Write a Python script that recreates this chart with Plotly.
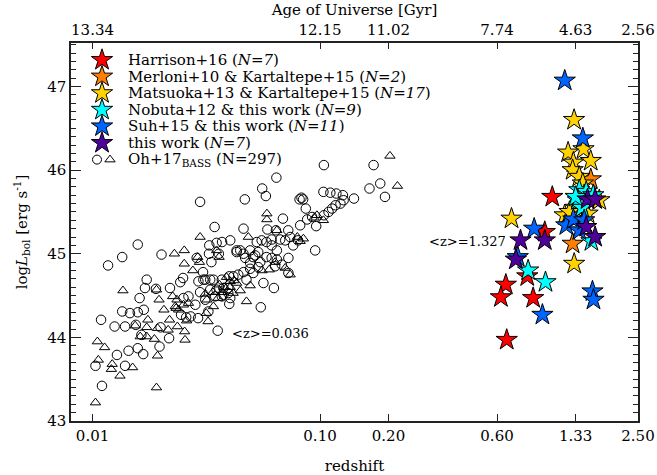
import numpy as np
import plotly.graph_objects as go

# ---------------- data ----------------
# Oh+17 BASS (circles)
bass_circ_z = [0.0103, 0.0110, 0.0128, 0.0139, 0.0144, 0.0158, 0.0167, 0.0197, 0.0217, 0.0164,
               0.0109, 0.0125, 0.0139, 0.0155, 0.0135, 0.0146, 0.0158, 0.0168, 0.0161, 0.0173,
               0.0170, 0.0190, 0.0219, 0.0243, 0.0250, 0.0158, 0.0135, 0.0117, 0.0201, 0.0251,
               0.0264, 0.0245, 0.0258, 0.0270, 0.0291, 0.0323, 0.0355, 0.0292, 0.0313, 0.0340,
               0.0370, 0.0399, 0.0437, 0.0351, 0.0376, 0.0395, 0.0403, 0.0370, 0.0399, 0.0306,
               0.0326, 0.0351, 0.0371, 0.0403, 0.0333, 0.0287, 0.0325, 0.0359, 0.0430, 0.0199,
               0.104, 0.172, 0.184, 0.165, 0.0643, 0.0557, 0.0578, 0.0467, 0.0813, 0.0829,
               0.0843, 0.1035, 0.111, 0.118, 0.126, 0.141, 0.127, 0.123, 0.117, 0.113,
               0.109, 0.104, 0.0866, 0.0878, 0.0923, 0.0962, 0.0952, 0.0687, 0.0587, 0.0640,
               0.0725, 0.0461, 0.0344, 0.0527, 0.0554, 0.0582, 0.0613, 0.0668, 0.0430, 0.0446,
               0.0493, 0.0469, 0.0493, 0.0519, 0.0546, 0.0535, 0.0582, 0.0613, 0.0646, 0.0679,
               0.0726, 0.0635, 0.0726, 0.0564, 0.0627, 0.0549, 0.193, 0.0307, 0.0329, 0.0313,
               0.0346, 0.0376, 0.0416, 0.0461, 0.0493, 0.0509, 0.0475, 0.0395, 0.0329, 0.0283,
               0.0297, 0.0818, 0.0762, 0.0800, 0.0297, 0.0461, 0.0508, 0.0535, 0.0646, 0.0613,
               0.0703, 0.0739]
bass_circ_L = [43.66, 43.42, 43.79, 43.66, 43.84, 43.87, 43.80, 43.89, 43.99, 44.03,
               44.21, 44.13, 44.13, 44.15, 44.31, 44.29, 44.30, 44.33, 44.47, 44.69,
               44.59, 44.58, 44.59, 44.66, 44.71, 45.11, 44.96, 44.86, 44.99, 44.47,
               44.49, 44.27, 44.24, 44.25, 44.23, 44.31, 44.08, 44.67, 44.69, 44.69,
               44.69, 44.73, 44.75, 44.57, 44.59, 44.53, 44.47, 44.49, 44.40, 44.78,
               45.10, 45.13, 45.14, 45.16, 44.90, 44.95, 45.00, 45.00, 45.02, 44.12,
               46.06, 46.06, 45.84, 45.78, 45.91, 45.78, 45.69, 45.65, 45.65, 45.67,
               45.65, 45.74, 45.73, 45.72, 45.70, 45.66, 45.64, 45.60, 45.58, 45.54,
               45.50, 45.46, 45.54, 45.41, 45.44, 45.33, 45.04, 45.42, 45.29, 45.28,
               45.28, 45.30, 45.32, 45.14, 45.16, 45.14, 45.17, 45.17, 45.04, 45.04,
               45.04, 44.95, 44.89, 44.98, 44.90, 44.84, 44.96, 44.95, 44.93, 44.87,
               44.95, 44.85, 44.77, 44.65, 44.59, 44.36, 45.68, 44.69, 44.57, 44.45,
               44.49, 44.51, 44.73, 44.78, 44.82, 44.77, 44.69, 44.59, 44.69, 44.39,
               44.54, 45.34, 45.10, 45.16, 45.62, 45.00, 44.96, 45.02, 45.04, 45.10,
               45.16, 45.20]

# Oh+17 BASS (triangles)
bass_tri_z = [0.0297, 0.0229, 0.0253, 0.0253, 0.0295, 0.0276, 0.0136, 0.0191, 0.0196, 0.0206,
              0.0175, 0.0154, 0.0173, 0.0193, 0.0162, 0.0173, 0.0187, 0.0215, 0.0218, 0.0225,
              0.0233, 0.0236, 0.0255, 0.0254, 0.0259, 0.0105, 0.0113, 0.0106, 0.0122, 0.0121,
              0.0132, 0.0150, 0.0193, 0.0191, 0.0103, 0.0322, 0.0340, 0.0361, 0.0379, 0.0403,
              0.0419, 0.0430, 0.0351, 0.0360, 0.0313, 0.0318, 0.0235, 0.0251, 0.0264, 0.0231,
              0.0239, 0.0584, 0.0584, 0.0484, 0.0646, 0.0795, 0.0845, 0.0969, 0.1035, 0.0598,
              0.0635, 0.0475, 0.0316, 0.203, 0.219, 0.0388, 0.0403, 0.0415, 0.0371, 0.0356,
              0.0556, 0.0703, 0.0739, 0.0818, 0.0942, 0.0290, 0.0338, 0.0446, 0.0493]
bass_tri_L = [45.20, 45.00, 45.04, 44.88, 44.90, 44.80, 44.56, 44.57, 44.45, 44.33,
              44.21, 44.14, 44.12, 44.11, 44.01, 44.01, 43.98, 44.09, 44.21, 44.49,
              44.35, 44.13, 43.97, 44.07, 44.20, 43.95, 43.88, 43.73, 43.68, 43.62,
              43.54, 43.64, 43.78, 43.40, 43.22, 44.19, 44.37, 44.63, 44.60, 44.67,
              44.68, 44.65, 45.04, 44.96, 44.52, 44.45, 44.45, 44.39, 44.41, 44.37,
              44.33, 45.48, 45.41, 45.20, 45.28, 45.20, 45.18, 45.46, 45.40, 44.81,
              44.90, 44.43, 44.29, 46.17, 45.81, 44.72, 44.60, 44.53, 44.54, 44.47,
              44.80, 44.83, 44.75, 45.15, 45.43, 44.96, 44.54, 44.56, 44.62]

# high-z samples (stars)
harrison_z = [1.050, 0.973, 0.815, 0.656, 0.624, 0.865, 0.662]
harrison_L = [45.68, 45.26, 44.73, 44.63, 44.48, 44.47, 43.97]

merloni_z = [1.55, 1.29]
merloni_L = [45.89, 45.12]

matsuoka_z = [1.309, 1.44, 1.232, 1.549, 1.30, 1.29, 1.38, 1.43, 1.69, 1.50,
              1.19, 1.31, 0.695, 1.33, 1.40, 1.25, 1.45]
matsuoka_L = [46.60, 46.25, 46.21, 46.11, 46.09, 46.00, 45.92, 45.84, 45.64, 45.48,
              45.46, 44.88, 45.42, 45.55, 45.60, 45.50, 45.70]

nobuta_z = [0.822, 0.980, 1.38, 1.48, 1.36, 1.59, 1.56, 1.42, 1.33]
nobuta_L = [44.80, 44.66, 45.76, 45.74, 45.64, 45.70, 45.15, 45.55, 45.68]

suh_z = [1.191, 1.43, 0.874, 1.21, 1.30, 1.38, 0.74, 0.950, 1.577, 1.593, 1.45]
suh_L = [47.07, 46.38, 45.30, 45.34, 45.41, 45.28, 44.96, 44.27, 44.55, 44.45, 45.40]

thiswork_z = [1.50, 1.62, 1.48, 1.62, 0.973, 0.761, 0.726]
thiswork_L = [45.65, 45.65, 45.32, 45.20, 45.16, 45.16, 44.93]

# ticks
z_ticks = [0.01, 0.10, 0.20, 0.60, 1.33, 2.50]
z_ticktext = ["0.01", "0.10", "0.20", "0.60", "1.33", "2.50"]
age_ticktext = ["13.34", "12.15", "11.02", "7.74", "4.63", "2.56"]

# mean-redshift labels
zmean_text = ["&lt;z&gt;=0.036", "&lt;z&gt;=1.327"]
zmean_z = [0.0404, 0.295]
zmean_L = [44.05, 45.15]

# legend
star_names = ["Harrison+16 (<i>N=7</i>)",
              "Merloni+10 &amp; Kartaltepe+15 (<i>N=2</i>)",
              "Matsuoka+13 &amp; Kartaltepe+15 (<i>N=17</i>)",
              "Nobuta+12 &amp; this work (<i>N=9</i>)",
              "Suh+15 &amp; this work (<i>N=11</i>)",
              "this work (<i>N=7</i>)"]
bass_name = "Oh+17<sub>BASS</sub> (N=297)"
star_colors = ["#ff0000", "#ff8000", "#ffd200", "#00ffff", "#0064ff", "#50009a"]

# ---------------- figure ----------------
FONT = "DejaVu Serif"
X_RANGE = [np.log10(0.00804), np.log10(2.5)]
Y_RANGE = [43.0, 47.52]
W, H = 657, 475
ML, MR, MT, MB = 71, 19, 43, 54
PW, PH = W - ML - MR, H - MT - MB

fig = go.Figure()

fig.add_trace(go.Scatter(x=bass_circ_z, y=bass_circ_L, mode="markers",
                         marker=dict(symbol="circle-open", size=9.5, color="black",
                                     line=dict(width=1, color="black")),
                         showlegend=False))
# triangles share the same redshift scale, drawn via the (identical) top axis
fig.add_trace(go.Scatter(x=bass_tri_z, y=bass_tri_L, mode="markers", xaxis="x2", yaxis="y",
                         marker=dict(symbol="triangle-up-open", size=9, color="black",
                                     line=dict(width=1, color="black")),
                         showlegend=False))

star_sets = [(harrison_z, harrison_L), (merloni_z, merloni_L), (matsuoka_z, matsuoka_L),
             (nobuta_z, nobuta_L), (suh_z, suh_L), (thiswork_z, thiswork_L)]
STAR_SIZE = 16
for (zz, ll), col in zip(star_sets, star_colors):
    fig.add_trace(go.Scatter(x=zz, y=ll, mode="markers", xaxis="x2", yaxis="y",
                             marker=dict(symbol="star", size=STAR_SIZE, color=col,
                                         line=dict(width=1, color="black")),
                             showlegend=False))

# manual legend on a hidden pixel-unit overlay axis
LEG_X_ICON, LEG_X_TEXT, LEG_Y0, LEG_DY = 31, 55, 17, 16.6
rows = [LEG_Y0 + i * LEG_DY for i in range(7)]
fig.add_trace(go.Scatter(x=[LEG_X_ICON] * 6, y=rows[:6], mode="markers", xaxis="x3", yaxis="y3",
                         marker=dict(symbol="star", size=STAR_SIZE, color=star_colors,
                                     line=dict(width=1, color="black")),
                         showlegend=False, hoverinfo="skip"))
fig.add_trace(go.Scatter(x=[LEG_X_ICON - 5, LEG_X_ICON + 8], y=[rows[6], rows[6]], mode="markers",
                         xaxis="x3", yaxis="y3",
                         marker=dict(symbol=["circle-open", "triangle-up-open"], size=9, color="black",
                                     line=dict(width=1, color="black")),
                         showlegend=False, hoverinfo="skip"))

annotations = []
for name, yy in zip(star_names + [bass_name], rows):
    annotations.append(dict(x=LEG_X_TEXT, y=yy, xref="x3", yref="y3", text=name, showarrow=False,
                            xanchor="left", yanchor="middle",
                            font=dict(family=FONT, size=15, color="black")))
for t, zz, ll in zip(zmean_text, zmean_z, zmean_L):
    annotations.append(dict(x=np.log10(zz), y=ll, xref="x", yref="y", text=t, showarrow=False,
                            xanchor="left", yanchor="middle",
                            font=dict(family=FONT, size=13, color="black")))

axis_common = dict(showgrid=False, zeroline=False, showline=True, linecolor="#222", linewidth=1.5,
                   ticks="inside", tickcolor="#222", tickwidth=1, automargin=False,
                   tickfont=dict(family=FONT, size=15, color="black"))

fig.update_layout(
    width=W, height=H, margin=dict(l=ML, r=MR, t=MT, b=MB),
    plot_bgcolor="white", paper_bgcolor="white", showlegend=False,
    xaxis=dict(type="log", range=X_RANGE, tickvals=z_ticks, ticktext=z_ticktext, ticklen=7,
               title=dict(text="redshift", font=dict(family=FONT, size=15, color="black"), standoff=17),
               **axis_common),
    xaxis2=dict(type="log", range=X_RANGE, overlaying="x", side="top", tickvals=z_ticks,
                ticktext=age_ticktext, ticklen=6, anchor="y",
                title=dict(text="Age of Universe [Gyr]", font=dict(family=FONT, size=15, color="black"),
                           standoff=2),
                **axis_common),
    yaxis=dict(range=Y_RANGE, tickvals=[43, 44, 45, 46, 47], ticklen=10, mirror="ticks",
               minor=dict(dtick=0.1, ticklen=5, ticks="inside", tickcolor="#222", tickwidth=1),
               title=dict(text="log<i>L</i><sub>bol</sub> [erg s<sup>-1</sup>]",
                          font=dict(family=FONT, size=15, color="black"), standoff=16),
               **axis_common),
    xaxis3=dict(range=[0, PW], overlaying="x", visible=False, anchor="y3"),
    yaxis3=dict(range=[PH, 0], overlaying="y", visible=False, anchor="x3"),
    annotations=annotations,
)

fig.write_html("out.html")
